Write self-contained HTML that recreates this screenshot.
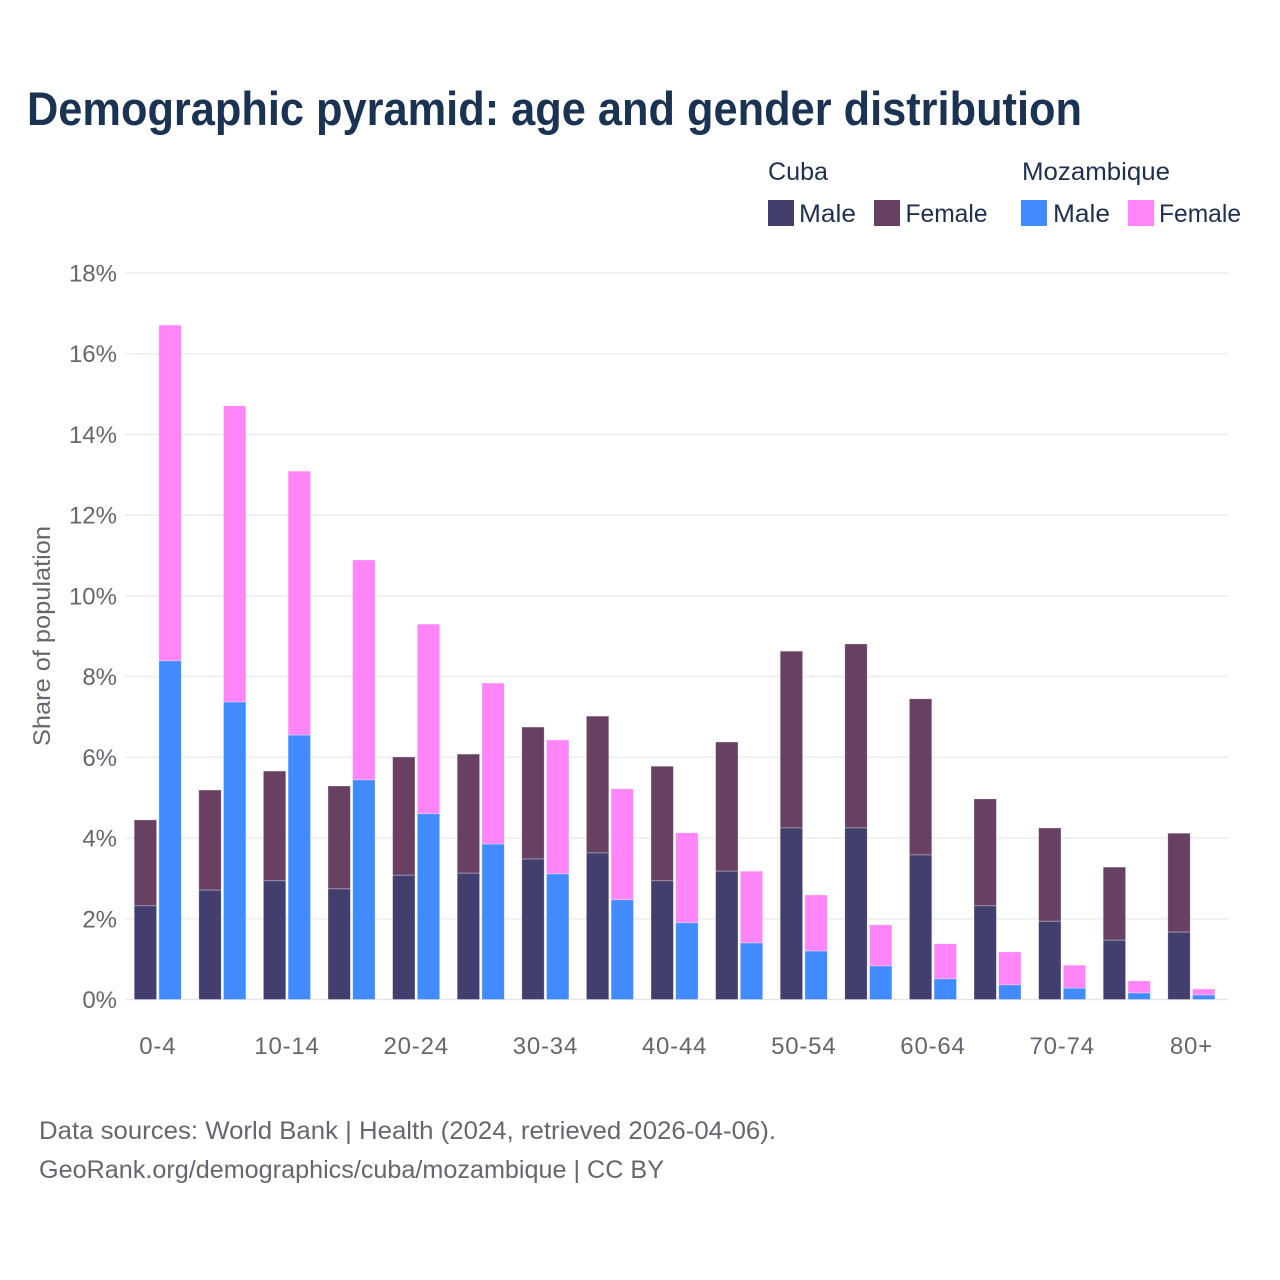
<!DOCTYPE html>
<html lang="en">
<head>
<meta charset="utf-8">
<title>Demographic pyramid: age and gender distribution</title>
<style>
  html, body { margin: 0; padding: 0; background: #fff; }
  body { width: 1280px; height: 1280px; overflow: hidden; }
  svg { display: block; font-family: "Liberation Sans", sans-serif; }
</style>
</head>
<body>
<svg id="chart" width="1280" height="1280" viewBox="0 0 1280 1280" xmlns="http://www.w3.org/2000/svg">
  <rect x="0" y="0" width="1280" height="1280" fill="#ffffff"/>
  <text x="27" y="125" font-size="47" font-weight="700" fill="#1a3353" textLength="1055" lengthAdjust="spacingAndGlyphs">Demographic pyramid: age and gender distribution</text>
  <g id="grid"></g>
  <g id="bars"></g>
  <g id="yaxis"></g>
  <g id="xaxis"></g>
  <text transform="translate(50,636) rotate(-90)" text-anchor="middle" font-size="24" fill="#66666e" textLength="220" lengthAdjust="spacingAndGlyphs">Share of population</text>
  <g font-size="25" fill="#1e2f50">
    <text x="768" y="180" textLength="60" lengthAdjust="spacingAndGlyphs">Cuba</text>
    <text x="1022" y="180" textLength="148" lengthAdjust="spacingAndGlyphs">Mozambique</text>
    <rect x="768" y="200" width="26" height="26" fill="#423f6f"/>
    <text x="799" y="222" textLength="57" lengthAdjust="spacingAndGlyphs">Male</text>
    <rect x="874" y="200" width="26" height="26" fill="#674062"/>
    <text x="905.5" y="222" textLength="82" lengthAdjust="spacingAndGlyphs">Female</text>
    <rect x="1021" y="200" width="26" height="26" fill="#428aff"/>
    <text x="1053" y="222" textLength="57" lengthAdjust="spacingAndGlyphs">Male</text>
    <rect x="1128" y="200" width="26" height="26" fill="#ff85f8"/>
    <text x="1159" y="222" textLength="82" lengthAdjust="spacingAndGlyphs">Female</text>
  </g>
  <g font-size="25" fill="#66666e">
    <text x="39" y="1139" textLength="737" lengthAdjust="spacingAndGlyphs">Data sources: World Bank | Health (2024, retrieved 2026-04-06).</text>
    <text x="39" y="1178" textLength="625" lengthAdjust="spacingAndGlyphs">GeoRank.org/demographics/cuba/mozambique | CC BY</text>
  </g>
</svg>
<script>
const categories = ["0-4","5-9","10-14","15-19","20-24","25-29","30-34","35-39","40-44","45-49","50-54","55-59","60-64","65-69","70-74","75-79","80+"];
const tickLabels = ["0-4","10-14","20-24","30-34","40-44","50-54","60-64","70-74","80+"];
const yTicks = [0,2,4,6,8,10,12,14,16,18];
const cubaMale = [2.32,2.71,2.94,2.74,3.08,3.13,3.48,3.63,2.94,3.18,4.25,4.25,3.58,2.32,1.94,1.47,1.67];
const cubaFemale = [2.13,2.48,2.72,2.55,2.93,2.95,3.27,3.39,2.84,3.20,4.38,4.56,3.87,2.65,2.31,1.81,2.45];
const mozambiqueMale = [8.39,7.37,6.55,5.44,4.60,3.85,3.11,2.47,1.90,1.40,1.20,0.83,0.51,0.36,0.28,0.16,0.11];
const mozambiqueFemale = [8.32,7.34,6.54,5.45,4.70,3.99,3.32,2.75,2.23,1.78,1.39,1.02,0.87,0.82,0.57,0.30,0.15];

const NS = "http://www.w3.org/2000/svg";
const plotLeft = 125.5, plotRight = 1228, plotZero = 999.5, plotTop18 = 273;
const bandStep = 64.6, barPad = 8.7, barWidth = 22.4, barGap = 2.3;
function yScale(v) { return plotZero - (v / 18) * (plotZero - plotTop18); }
function xBand(i) { return plotLeft + i * bandStep; }
function make(tag, attrs, parent) {
  const el = document.createElementNS(NS, tag);
  for (const k in attrs) el.setAttribute(k, attrs[k]);
  parent.appendChild(el);
  return el;
}
const grid = document.getElementById("grid");
const yaxis = document.getElementById("yaxis");
const xaxis = document.getElementById("xaxis");
const bars = document.getElementById("bars");

yTicks.forEach(function (t) {
  const line = make("line", { x1: plotLeft - 0.5, x2: plotRight, y1: yScale(t), y2: yScale(t), stroke: t === 0 ? "#e6e6e8" : "#eeeeef", "stroke-width": 1.6 }, grid);
  
  
  const label = make("text", { x: 117, y: yScale(t) + 8.5, "text-anchor": "end", "font-size": 24, fill: "#66666e" }, yaxis);
  
  
  label.textContent = t + "%";
});

tickLabels.forEach(function (name) {
  const i = categories.indexOf(name);
  const label = make("text", { x: xBand(i) + bandStep / 2, y: 1054, "text-anchor": "middle", "font-size": 24, "letter-spacing": "0.8", fill: "#66666e" }, xaxis);
  
  
  label.textContent = name;
});

function drawSegment(x, base, value, fill) {
  const top = yScale(base + value);
  const bottom = yScale(base);
  const r = make("rect", { x: x, y: top, width: barWidth, height: bottom - top, fill: fill, stroke: "rgba(255,255,255,0.45)", "stroke-width": 0.7 }, bars);
  return r;
}
categories.forEach(function (cat, i) {
  const xCuba = xBand(i) + barPad;
  const xMoz = xCuba + barWidth + barGap;
  const a = drawSegment(xCuba, cubaMale[i], cubaFemale[i], "#674062");
  
  
  const b = drawSegment(xCuba, 0, cubaMale[i], "#423f6f");
  
  
  const c = drawSegment(xMoz, mozambiqueMale[i], mozambiqueFemale[i], "#ff85f8");
  
  
  const d = drawSegment(xMoz, 0, mozambiqueMale[i], "#428aff");
  
  
});
</script>
</body>
</html>
